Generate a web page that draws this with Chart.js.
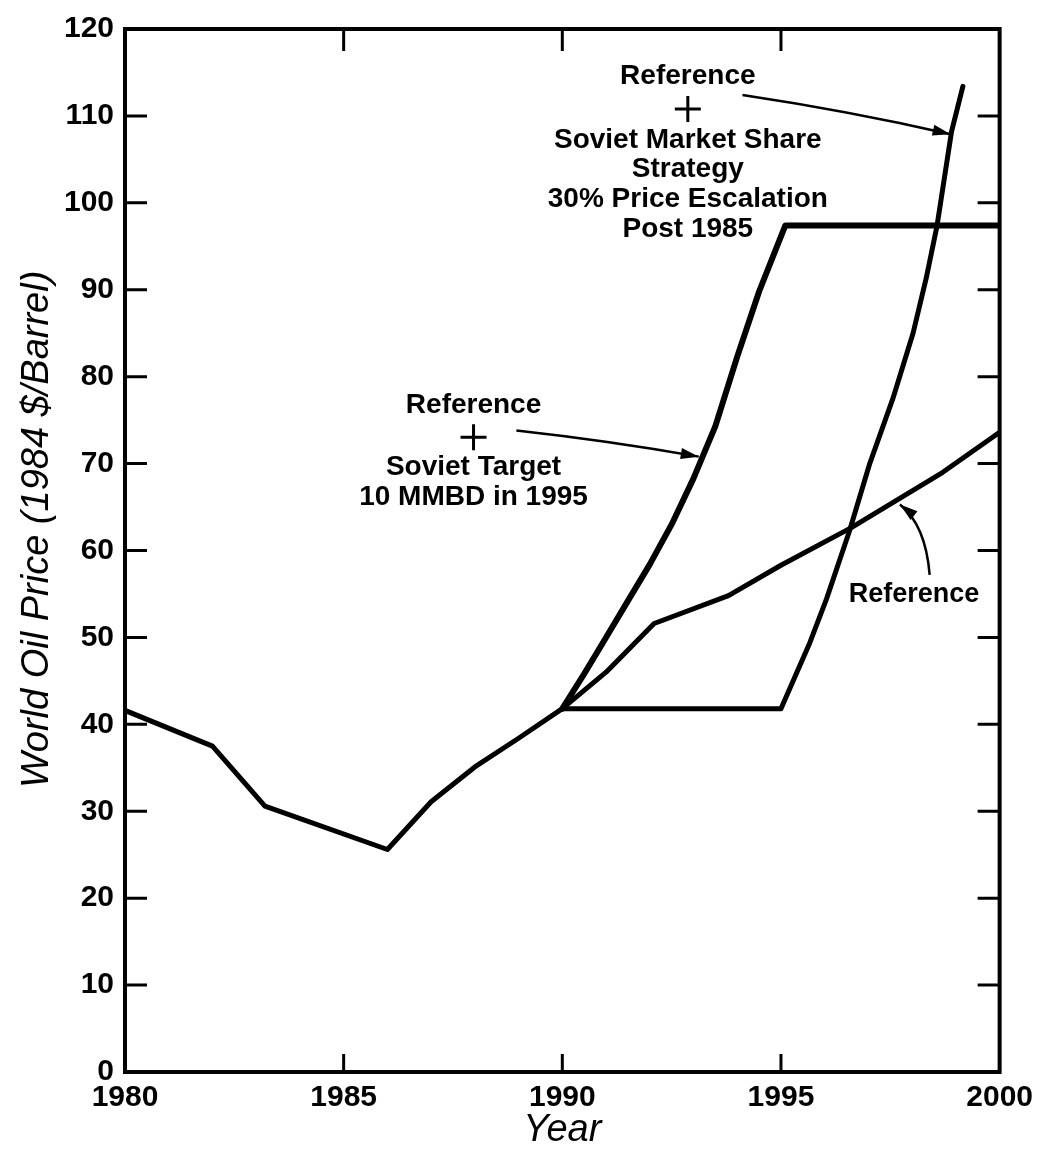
<!DOCTYPE html>
<html>
<head>
<meta charset="utf-8">
<script src="https://cdn.jsdelivr.net/npm/chart.js@4.4.0/dist/chart.umd.min.js"></script>
<style>html,body{margin:0;background:#fff}</style>
</head>
<body>
<canvas id="c" width="1041" height="1161"></canvas>
<script>
// values
const refYears = [1980, 1982, 1983.2, 1986, 1987, 1988, 1989, 1990, 1991, 1992.1, 1993.8, 1995, 1996.6, 1998.7, 2000];
const refPrice = [41.6, 37.5, 30.6, 25.6, 31.1, 35.1, 38.4, 41.8, 46, 51.6, 54.8, 58.3, 62.6, 69, 73.6];

const targetYears = [1990, 1990.5, 1991, 1991.5, 1992, 1992.5, 1993, 1993.5, 1994, 1994.5, 1995.1, 2000];
const targetPrice = [41.8, 45.8, 50, 54.2, 58.4, 63, 68.3, 74.3, 82.3, 89.8, 97.4, 97.4];

const shareYears = [1990, 1995, 1995.66, 1996.04, 1996.57, 1997.03, 1997.56, 1998.02, 1998.32, 1998.57, 1998.9, 1999.16];
const sharePrice = [41.8, 41.8, 49.4, 54.4, 62.3, 70, 77.5, 85, 91.3, 97.4, 108.2, 113.4];

const yearMin = 1980, yearMax = 2000, yearStep = 5;
const priceMin = 0, priceMax = 120, priceStep = 10;

const labelA = ['Reference', '+', 'Soviet Market Share', 'Strategy', '30% Price Escalation', 'Post 1985'];
const labelB = ['Reference', '+', 'Soviet Target', '10 MMBD in 1995'];
const labelC = ['Reference'];

const FONT = '"Liberation Sans", Arial, sans-serif';

function pts(xs, ys) {
  return xs.map((x, i) => ({ x: x, y: ys[i] }));
}

function arrow(ctx, x0, y0, cx, cy, x1, y1) {
  ctx.beginPath();
  ctx.moveTo(x0, y0);
  ctx.quadraticCurveTo(cx, cy, x1, y1);
  ctx.stroke();
  const a = Math.atan2(y1 - cy, x1 - cx);
  const L = 18, W = 5.5;
  ctx.beginPath();
  ctx.moveTo(x1, y1);
  ctx.lineTo(x1 - L * Math.cos(a) + W * Math.sin(a), y1 - L * Math.sin(a) - W * Math.cos(a));
  ctx.lineTo(x1 - L * Math.cos(a) - W * Math.sin(a), y1 - L * Math.sin(a) + W * Math.cos(a));
  ctx.closePath();
  ctx.fill();
}

function block(ctx, lines, x, y, gaps) {
  lines.forEach((t, i) => {
    if (t === '+') {
      ctx.save();
      ctx.lineWidth = 3;
      ctx.beginPath();
      ctx.moveTo(x - 13, y + gaps[i]); ctx.lineTo(x + 13, y + gaps[i]);
      ctx.moveTo(x, y + gaps[i] - 13); ctx.lineTo(x, y + gaps[i] + 13);
      ctx.stroke();
      ctx.restore();
    } else {
      ctx.fillText(t, x, y + gaps[i]);
    }
  });
}

const frame = {
  id: 'frame',
  afterDatasetsDraw(chart) {
    const { ctx, chartArea: a, scales: { x, y } } = chart;
    ctx.save();
    ctx.strokeStyle = '#000';
    ctx.fillStyle = '#000';
    ctx.lineCap = 'butt';

    // top and right border
    ctx.lineWidth = 4;
    ctx.beginPath();
    ctx.moveTo(a.left - 2, a.top);
    ctx.lineTo(a.right, a.top);
    ctx.lineTo(a.right, a.bottom + 2);
    ctx.stroke();

    // inner tick marks on all four sides
    ctx.lineWidth = 3;
    y.ticks.forEach(t => {
      if (t.value <= priceMin || t.value >= priceMax) return;
      const py = y.getPixelForValue(t.value);
      ctx.beginPath();
      ctx.moveTo(a.left, py); ctx.lineTo(a.left + 22, py);
      ctx.moveTo(a.right, py); ctx.lineTo(a.right - 22, py);
      ctx.stroke();
    });
    x.ticks.forEach(t => {
      if (t.value <= yearMin || t.value >= yearMax) return;
      const px = x.getPixelForValue(t.value);
      ctx.beginPath();
      ctx.moveTo(px, a.bottom); ctx.lineTo(px, a.bottom - 18);
      ctx.moveTo(px, a.top); ctx.lineTo(px, a.top + 22);
      ctx.stroke();
    });

    // annotations
    ctx.font = 'bold 28px ' + FONT;
    ctx.textAlign = 'center';
    ctx.textBaseline = 'middle';
    block(ctx, labelA, x.getPixelForValue(1992.87), y.getPixelForValue(114.6), [0, 33, 64, 93, 123, 153]);
    block(ctx, labelB, x.getPixelForValue(1987.97), y.getPixelForValue(76.7), [0, 32, 62, 92]);
    ctx.font = 'bold 27px ' + FONT;
    block(ctx, labelC, x.getPixelForValue(1998.04), y.getPixelForValue(54.9), [0]);

    ctx.lineWidth = 2.5;
    let s = [x.getPixelForValue(1994.12), y.getPixelForValue(112.4)];
    let e = [x.getPixelForValue(1998.88), y.getPixelForValue(107.9)];
    arrow(ctx, s[0], s[1], (s[0] + e[0]) / 2, (s[1] + e[1]) / 2 - 4, e[0], e[1]);

    s = [x.getPixelForValue(1988.95), y.getPixelForValue(73.8)];
    e = [x.getPixelForValue(1993.12), y.getPixelForValue(70.8)];
    arrow(ctx, s[0], s[1], (s[0] + e[0]) / 2, (s[1] + e[1]) / 2 - 3, e[0], e[1]);

    s = [x.getPixelForValue(1998.4), y.getPixelForValue(57.2)];
    e = [x.getPixelForValue(1997.72), y.getPixelForValue(65.3)];
    arrow(ctx, s[0], s[1], s[0] - 4, s[1] - 50, e[0], e[1]);

    ctx.restore();
  }
};

const lineStyle = { borderColor: '#000', pointRadius: 0, tension: 0, fill: false, borderJoinStyle: 'round', borderCapStyle: 'round' };

new Chart(document.getElementById('c').getContext('2d'), {
  type: 'line',
  data: {
    datasets: [
      Object.assign({ label: 'Reference', data: pts(refYears, refPrice), borderWidth: 5 }, lineStyle),
      Object.assign({ label: 'Reference + Soviet Target 10 MMBD in 1995', data: pts(targetYears, targetPrice), borderWidth: 6 }, lineStyle),
      Object.assign({ label: 'Reference + Soviet Market Share Strategy', data: pts(shareYears, sharePrice), borderWidth: 5 }, lineStyle)
    ]
  },
  options: {
    responsive: false,
    animation: false,
    layout: { padding: { top: 28, right: 38, left: 0, bottom: 0 } },
    plugins: { legend: { display: false }, tooltip: { enabled: false } },
    scales: {
      x: {
        type: 'linear',
        min: yearMin, max: yearMax,
        afterFit: s => { s.height = 89; },
        ticks: { stepSize: yearStep, color: '#000', padding: 8, maxRotation: 0, font: { family: FONT, size: 30, weight: 'bold' },
                 callback: v => String(v) },
        grid: { drawOnChartArea: false, drawTicks: false },
        border: { color: '#000', width: 4 },
        title: { display: true, text: 'Year', color: '#000', padding: { bottom: 8 },
                 font: { family: FONT, size: 38, style: 'italic' } }
      },
      y: {
        min: priceMin, max: priceMax,
        afterFit: s => { s.width = 125; },
        ticks: { stepSize: priceStep, color: '#000', padding: 11, font: { family: FONT, size: 30, weight: 'bold' },
                 callback: v => String(v) },
        grid: { drawOnChartArea: false, drawTicks: false },
        border: { color: '#000', width: 4 },
        title: { display: true, text: '    World Oil Price (1984 $/Barrel)', color: '#000', padding: { top: 15 },
                 font: { family: FONT, size: 38, style: 'italic' } }
      }
    }
  },
  plugins: [frame]
});
</script>
</body>
</html>
